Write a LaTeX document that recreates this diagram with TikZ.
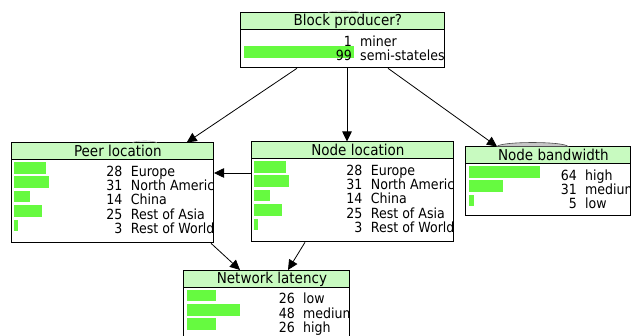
\documentclass[tikz,border=0pt]{standalone}
\usepackage{fontspec}
\setmainfont{DejaVu Sans Condensed}
\usetikzlibrary{arrows.meta}
\definecolor{titlegreen}{RGB}{200,250,192}
\definecolor{bargreen}{RGB}{102,250,64}
\tikzset{
  ttl/.style={draw, fill=titlegreen, line width=0.8pt, inner sep=0pt, minimum height=17pt, anchor=north west, font=\fontsize{15}{17}\selectfont},
  bdy/.style={draw, fill=white, line width=0.8pt, inner sep=0pt, anchor=north west},
  val/.style={anchor=base east, inner sep=0pt, font=\fontsize{14}{15}\selectfont},
  lab/.style={anchor=base west, inner sep=0pt, font=\fontsize{14}{15}\selectfont},
  link/.style={line width=0.8pt, -{Triangle[length=10pt,width=9.5pt]}},
  hump/.style={fill=gray!45, draw=black!70, line width=0.6pt},
  pics/netbox/.style n args={4}{
    code={
      \node[bdy, minimum width=#1, minimum height=#2] (-body) at (0,17) {};
      \node[ttl, minimum width=#1] (-title) at (0,0) {\hspace*{11pt}#3};
      \begin{scope}
        \clip (0.5,17.5) rectangle ([xshift=-0.5pt,yshift=0.5pt]-body.south east);
        \foreach \pct/\stname [count=\i] in {#4} {
          \ifnum\pct>1
            \fill[bargreen] (3.5,{19.6+(\i-1)*14.4}) rectangle ++({1.12*\pct},11.5);
          \fi
          \node[val] (-v\i) at (112,{33.6+(\i-1)*14.4}) {\pct};
          \node[lab] (-s\i) at (120,{33.6+(\i-1)*14.4}) {\stname};
        }
      \end{scope}
    }
  }
}

\begin{document}
\begin{tikzpicture}[x=1pt,y=-1pt]
  \useasboundingbox (0,0) rectangle (631,336);

  % the five variables
  \pic (bp) at (240,12.5) {netbox={204pt}{38pt}{Block producer?}{1/miner,99/semi-stateless}};
  \pic (pl) at (10.7,142.5) {netbox={202.5pt}{83pt}{Peer location}{28/Europe,31/North America,14/China,25/Rest of Asia,3/Rest of World}};
  \pic (nl) at (250.7,141.5) {netbox={202.5pt}{83pt}{Node location}{28/Europe,31/North America,14/China,25/Rest of Asia,3/Rest of World}};
  \pic (nb) at (465,146.5) {netbox={165pt}{52pt}{Node bandwidth}{64/high,31/medium,5/low}};
  \pic (lat) at (183,270) {netbox={166pt}{53pt}{Network latency}{26/low,48/medium,26/high}};

  % humps peeking out behind the boxes
  \filldraw[hump] ([xshift=32pt]nb-title.north west) .. controls +(4pt,5.3pt) and +(-4pt,5.3pt) .. ([xshift=103pt]nb-title.north west) -- cycle;
  \draw[gray!60, line width=0.6pt] ([xshift=88pt]bp-title.north west) .. controls +(3pt,2pt) and +(-3pt,2pt) .. ([xshift=120pt]bp-title.north west);
  \draw[gray!60, line width=0.6pt] ([xshift=122pt]pl-title.north west) .. controls +(3pt,2pt) and +(-3pt,2pt) .. ([xshift=146pt]pl-title.north west);

  % links
  \draw[link] ([xshift=57pt]bp-body.south west) -- ([xshift=176pt]pl-title.north west);
  \draw[link] ([xshift=107pt]bp-body.south west) -- ([xshift=96.3pt]nl-title.north west);
  \draw[link] ([xshift=148pt]bp-body.south west) -- ([xshift=32pt]nb-title.north west);
  \draw[link] ([yshift=-14.5pt]nl-body.north west) coordinate (nlpl) -- (nlpl -| pl-body.east);
  \draw[link] ([xshift=-3pt]pl-body.south east) -- ([xshift=57pt]lat-title.north west);
  \draw[link] ([xshift=54.3pt]nl-body.south west) -- ([xshift=105pt]lat-title.north west);
\end{tikzpicture}
\end{document}
